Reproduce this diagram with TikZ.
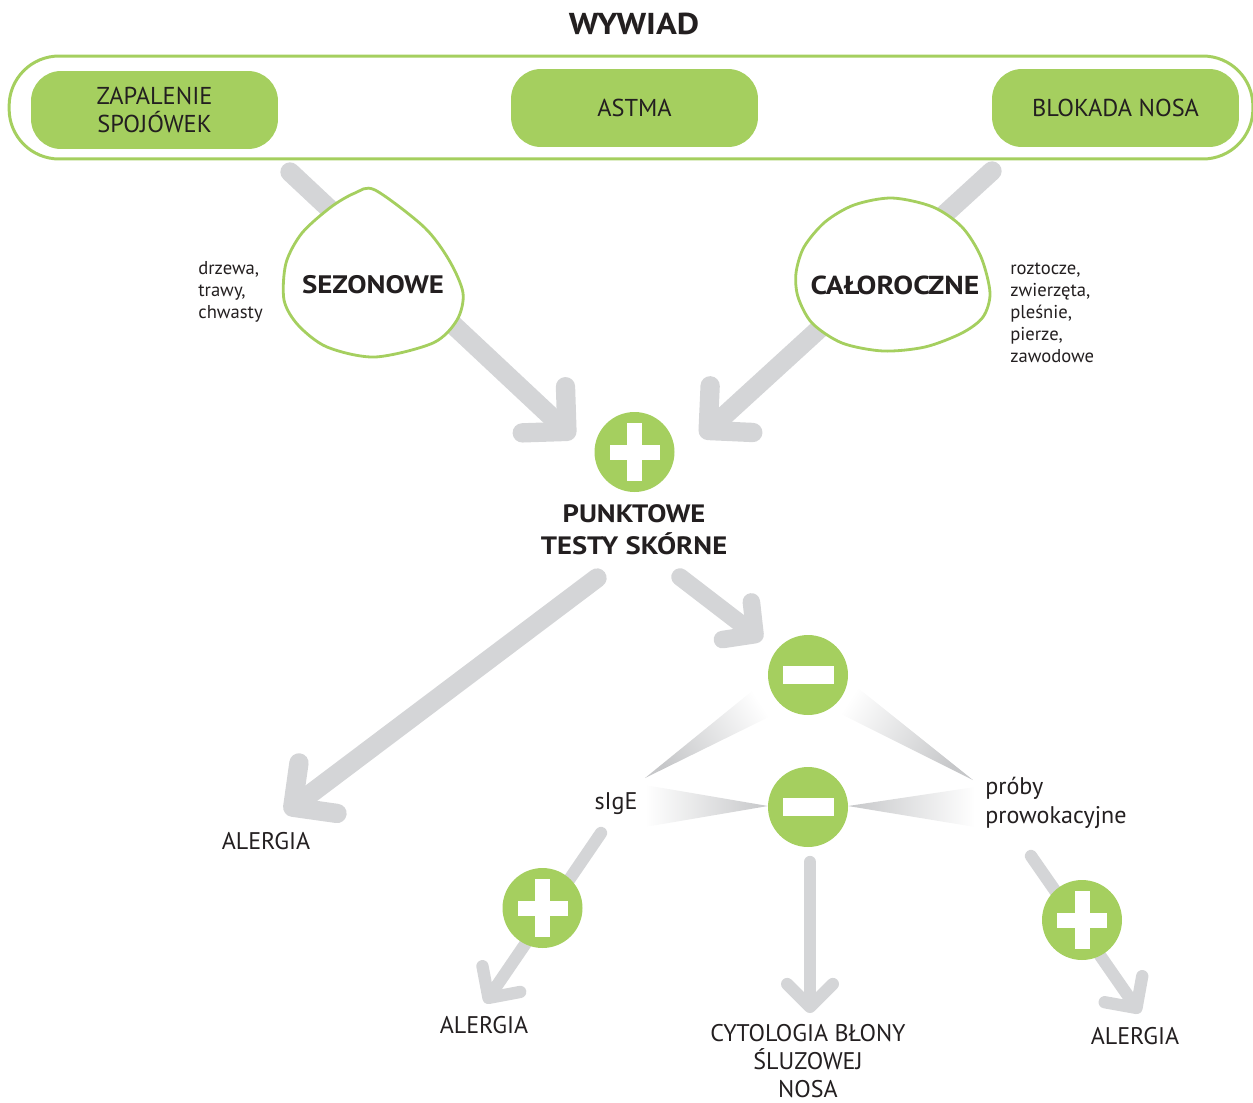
\documentclass[tikz,border=0pt]{standalone}
\usepackage{fontspec}
\setmainfont{PT Sans}
\newfontfamily\heavy[FakeStretch=1.14]{PT Sans}
\usetikzlibrary{arrows.meta}
\definecolor{leaf}{HTML}{A5CF5F}
\definecolor{ash}{HTML}{D4D5D7}
\definecolor{fog}{HTML}{C6C7C9}
\definecolor{ink}{HTML}{231F20}
\pgfdeclarelayer{back}
\pgfsetlayers{back,main}
\newcommand{\fs}[2]{\fontsize{#1}{#2}\selectfont}

\begin{document}
\begin{tikzpicture}[x=0.02cm,y=-0.02cm,
  every node/.style={text=ink,inner sep=0pt,align=center},
  pill/.style={fill=leaf,rounded corners=0.6cm,minimum width=4.94cm,minimum height=1.56cm,font=\fs{13.9}{16.4}},
  blob/.style={draw=leaf,fill=white,line width=1.6pt},
  sign/.style={circle,fill=leaf,minimum size=1.6cm},
  plus/.style={sign,path picture={
    \fill[white] ([shift={(-7.5,-29)}]path picture bounding box.center) rectangle ([shift={(7.5,29)}]path picture bounding box.center);
    \fill[white] ([shift={(-25,-7.5)}]path picture bounding box.center) rectangle ([shift={(25,7.5)}]path picture bounding box.center);}},
  minus/.style={sign,path picture={
    \fill[white] ([shift={(-25.5,-9)}]path picture bounding box.center) rectangle ([shift={(25.5,9)}]path picture bounding box.center);}},
  bigarrow/.style={ash,line width=11pt,line cap=round,-{Straight Barb[length=18pt,width=36pt,round]}},
  midarrow/.style={ash,line width=10pt,line cap=round,-{Straight Barb[length=13pt,width=27pt,round]}},
  smallarrow/.style={ash,line width=7pt,line cap=round,-{Straight Barb[length=13pt,width=26pt,round]}},
  label/.style={font=\fs{13.7}{16}},
  head/.style={font=\heavy\bfseries\fs{14.3}{18}},
  note/.style={font=\fs{10.6}{12.5},align=left,anchor=base west}
]
\useasboundingbox (0,0) rectangle (1253,1102);

\node[font=\heavy\bfseries\fs{17.2}{20}] (wywiad) at (634,24) {WYWIAD};
\node[draw=leaf,line width=1.7pt,rounded corners=1cm,minimum width=24.88cm,minimum height=2.06cm] (frame) at (631,107.5) {};
\node[pill] (zap) at (154.5,110) {ZAPALENIE\\SPOJÓWEK};
\node[pill] (astma) at (634.5,108) {ASTMA};
\node[pill] (nos) at (1115.5,108) {BLOKADA NOSA};

\draw[blob] plot[smooth cycle] coordinates {(375,190) (424,227) (449,260) (463,293) (457,320) (433,343) (375,357) (327,347) (298,325) (284,300) (286,263) (302,233) (331,207) (355,193)};
\node[head,font=\heavy\bfseries\fs{14.4}{18}] (sez) at (373,285) {SEZONOWE};
\node[note] (seznote) at (198,318) {drzewa,\\trawy,\\chwasty};

\draw[blob] plot[smooth cycle] coordinates {(892,198) (933,207) (962,227) (981,257) (990,293) (983,317) (962,333) (925,347) (883,351) (842,343) (812,323) (798,297) (796,273) (804,247) (825,222) (854,205)};
\node[head,font=\heavy\bfseries\fs{14.8}{18}] (cal) at (895,285) {CAŁOROCZNE};
\node[note] (calnote) at (1010,362) {roztocze,\\zwierzęta,\\pleśnie,\\pierze,\\zawodowe};

\node[plus] (pos1) at (634.5,452) {};
\node[head] (pts) at (634,530) {PUNKTOWE\\TESTY SKÓRNE};

\node[minus] (neg1) at (808,675) {};
\node[minus] (neg2) at (808,807) {};
\node[label] (sige) at (616,804) {sIgE};
\node[label,align=left,anchor=base west] (proby) at (985,823) {próby\\prowokacyjne};

\node[label] (al1) at (266,841) {ALERGIA};
\node[plus] (pos2) at (542.5,908) {};
\node[label] (al2) at (484,1025) {ALERGIA};
\node[plus] (pos3) at (1082,920) {};
\node[label] (al3) at (1135,1036) {ALERGIA};
\node[label,font=\fs{13.7}{15.9}] (cyto) at (808,1061) {CYTOLOGIA BŁONY\\ŚLUZOWEJ\\NOSA};

\coordinate (s1) at (290,172);
\coordinate (t1) at (574,438);
\coordinate (s2) at (992,171);
\coordinate (t2) at (701,437);
\coordinate (s3) at (597,578);
\coordinate (t3) at (285,813);
\coordinate (s4) at (680,577);
\coordinate (t4) at (762,640);
\coordinate (s5) at (601,833);
\coordinate (t5) at (485,1003);
\coordinate (s6) at (810,862);
\coordinate (t6) at (810,1013);
\coordinate (s7) at (1031,856);
\coordinate (t7) at (1140,1013);

\begin{pgfonlayer}{back}
\draw[bigarrow] (s1) -- (t1);
\draw[bigarrow] (s2) -- (t2);
\draw[bigarrow] (s3) -- (t3);
\draw[midarrow] (s4) -- (t4);
\draw[smallarrow] (s5) -- (t5);
\draw[smallarrow] (s6) -- (t6);
\draw[smallarrow] (s7) -- (t7);
\shade[top color=white,bottom color=fog,shading angle=-57] (645,778) -- (757,687) -- (777,713) -- cycle;
\shade[top color=white,bottom color=fog,shading angle=57] (973,780) -- (848,680) -- (833,710) -- cycle;
\shade[left color=white,right color=fog] (645,785) -- (645,827) -- (768,806) -- cycle;
\shade[left color=fog,right color=white] (848,806) -- (975,787) -- (975,827) -- cycle;
\end{pgfonlayer}
\end{tikzpicture}
\end{document}
